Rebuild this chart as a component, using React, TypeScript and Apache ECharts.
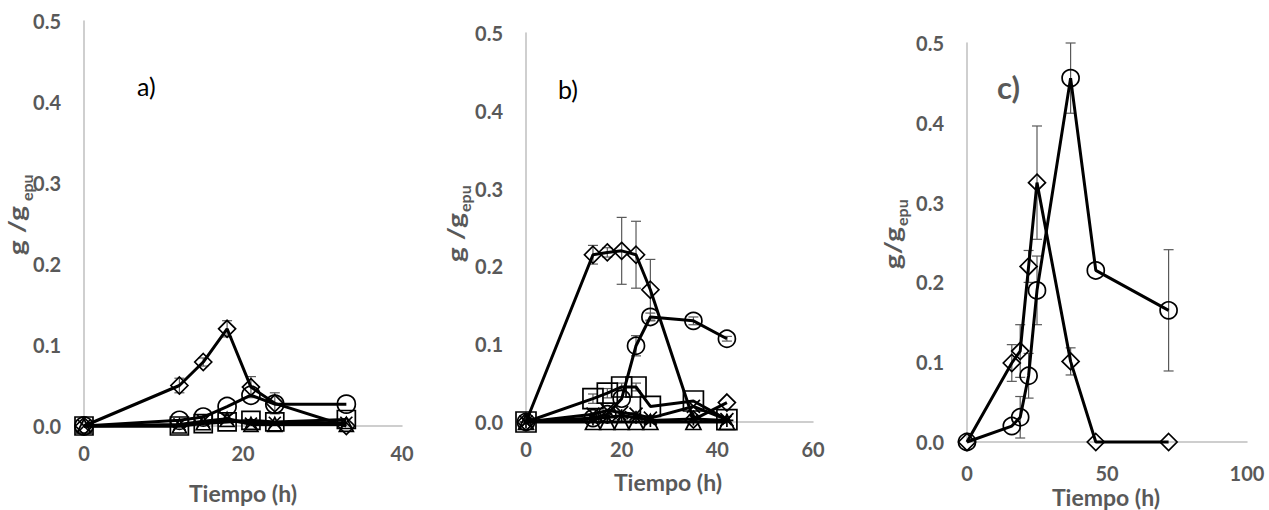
import React, { useEffect, useRef } from "react";
import * as echarts from "echarts";

// Panel a)
const aTime = [0, 12, 15, 18, 21, 24, 33];
const aDiamond = [0, 0.05, 0.079, 0.12, 0.048, 0.028, 0.0];
const aDiamondErr = [0, 0.009, 0.005, 0.01, 0.013, 0.013, 0];
const aCircle = [0, 0.007, 0.011, 0.024, 0.038, 0.027, 0.027];
const aSquare = [0, 0.0, 0.003, 0.005, 0.007, 0.005, 0.008];
const aTriangle = [0, 0.0, 0.004, 0.008, 0.002, 0.002, 0.002];
const aCross = [0, 0.002, 0.006, 0.009, 0.003, 0.004, 0.004];

// Panel b)
const bTime = [0, 14, 17, 20, 23, 26, 35, 42];
const bDiamond = [0, 0.215, 0.218, 0.22, 0.215, 0.17, 0.003, 0.025];
const bDiamondErr = [0, 0.012, 0.006, 0.043, 0.043, 0.039, 0, 0];
const bCircle = [0, 0.005, 0.01, 0.03, 0.098, 0.135, 0.13, 0.107];
const bCircleErr = [0, 0, 0, 0, 0.013, 0.005, 0.005, 0.003];
const bSquare = [0, 0.03, 0.037, 0.045, 0.045, 0.02, 0.027, 0.003];
const bSquareErr = [0, 0.006, 0.006, 0.005, 0.005, 0, 0, 0];
const bTriangle = [0, 0, 0, 0, 0, 0, 0, 0];
const bCross = [0, 0.01, 0.015, 0.012, 0.01, 0.005, 0.02, 0.003];
const bStar = [0, 0.004, 0.006, 0.008, 0.006, 0.002, 0.004, 0.002];

// Panel c)
const cTime = [0, 16, 19, 22, 25, 37, 46, 72];
const cDiamond = [0, 0.099, 0.114, 0.22, 0.325, 0.101, 0, 0];
const cDiamondErr = [0, 0.023, 0.033, 0.02, 0.071, 0.017, 0, 0];
const cCircle = [0, 0.02, 0.031, 0.083, 0.19, 0.456, 0.215, 0.165];
const cCircleErr = [0, 0, 0.026, 0.028, 0.043, 0.044, 0, 0.076];

const yTicks = [0, 0.1, 0.2, 0.3, 0.4, 0.5];
const xMax = [40, 60, 100];
const xStep = [20, 20, 50];

const FONT = "Lato, 'Open Sans', sans-serif";
const GREY = "#595959";
const AXIS_GREY = "#bfbfbf";

const CROSS = "path://M0 0L10 10M10 0L0 10";
const STAR = "path://M5 0L5 10M0 5L10 5M1.5 1.5L8.5 8.5M8.5 1.5L1.5 8.5";

function lineSeries(idx: number, xs: number[], ys: number[], symbol: string, size: number) {
  return {
    type: "line",
    xAxisIndex: idx,
    yAxisIndex: idx,
    data: xs.map((x, i) => [x, ys[i]]),
    symbol,
    symbolSize: size,
    showAllSymbol: true,
    clip: false,
    z: 3,
    lineStyle: { color: "#000", width: 3 },
    itemStyle: { color: "rgba(255,255,255,0)", borderColor: "#000", borderWidth: 1.7 },
    emphasis: { disabled: true },
  };
}

function errorSeries(idx: number, xs: number[], ys: number[], errs: number[]) {
  const data = xs
    .map((x, i) => [x, ys[i] - errs[i], ys[i] + errs[i]])
    .filter((_, i) => errs[i] > 0);
  return {
    type: "custom",
    xAxisIndex: idx,
    yAxisIndex: idx,
    z: 2,
    clip: false,
    encode: { x: 0, y: [1, 2] },
    data,
    renderItem: (_params: any, api: any) => {
      const x = api.value(0);
      const top = api.coord([x, api.value(2)]);
      const bot = api.coord([x, api.value(1)]);
      const w = 5;
      const style = { stroke: GREY, lineWidth: 1.2 };
      return {
        type: "group",
        children: [
          { type: "line", shape: { x1: top[0], y1: top[1], x2: bot[0], y2: bot[1] }, style },
          { type: "line", shape: { x1: top[0] - w, y1: top[1], x2: top[0] + w, y2: top[1] }, style },
          { type: "line", shape: { x1: bot[0] - w, y1: bot[1], x2: bot[0] + w, y2: bot[1] }, style },
        ],
      };
    },
  };
}

// Rotated axis title "g/g" with a lowered "epu" subscript; the main part is
// stretched along the reading direction.
function yLabel(cx: number, cy: number, main: string, sub: string, subShift: number) {
  return {
    type: "group",
    x: cx,
    y: cy,
    rotation: Math.PI / 2,
    children: [
      {
        type: "text",
        x: 0,
        y: 0,
        scaleX: 1.3,
        style: { text: main, align: "right", verticalAlign: "middle", font: `bold 22px ${FONT}`, fill: GREY },
      },
      {
        type: "text",
        x: 1,
        y: subShift,
        style: { text: sub, align: "left", verticalAlign: "middle", font: `bold 16px ${FONT}`, fill: GREY },
      },
    ],
  };
}

export default function App() {
  const ref = useRef<HTMLDivElement>(null);

  useEffect(() => {
    if (!ref.current) return;
    const chart = echarts.init(ref.current, undefined, { renderer: "svg" });

    const grids = [
      { left: 84, top: 21, width: 318, height: 405 },
      { left: 526, top: 33, width: 287, height: 389 },
      { left: 967, top: 43, width: 280, height: 399 },
    ];
    const xLabelMargin = [17, 17, 21];

    const xAxis = grids.map((_, i) => ({
      type: "value",
      gridIndex: i,
      min: 0,
      max: xMax[i],
      interval: xStep[i],
      axisLine: { show: true, onZero: true, lineStyle: { color: AXIS_GREY, width: 1.5 } },
      axisTick: { show: false },
      splitLine: { show: false },
      axisLabel: { color: GREY, fontWeight: "bold", fontSize: 20, fontFamily: FONT, margin: xLabelMargin[i] },
    }));

    const yAxis = grids.map((_, i) => ({
      type: "value",
      gridIndex: i,
      min: yTicks[0],
      max: yTicks[yTicks.length - 1],
      interval: 0.1,
      axisLine: { show: true, lineStyle: { color: AXIS_GREY, width: 1.5 } },
      axisTick: { show: false },
      splitLine: { show: false },
      axisLabel: {
        color: GREY,
        fontWeight: "bold",
        fontSize: 20,
        fontFamily: FONT,
        margin: 23,
        formatter: (v: number) => v.toFixed(1),
      },
    }));

    const series = [
      errorSeries(0, aTime, aDiamond, aDiamondErr),
      lineSeries(0, aTime, aSquare, "rect", 18),
      lineSeries(0, aTime, aTriangle, "triangle", 14),
      lineSeries(0, aTime, aCross, CROSS, 12),
      lineSeries(0, aTime, aCircle, "circle", 18),
      lineSeries(0, aTime, aDiamond, "diamond", 17),

      errorSeries(1, bTime, bDiamond, bDiamondErr),
      errorSeries(1, bTime, bCircle, bCircleErr),
      errorSeries(1, bTime, bSquare, bSquareErr),
      lineSeries(1, bTime, bSquare, "rect", 20),
      lineSeries(1, bTime, bTriangle, "triangle", 15),
      lineSeries(1, bTime, bCross, CROSS, 13),
      lineSeries(1, bTime, bStar, STAR, 13),
      lineSeries(1, bTime, bCircle, "circle", 17),
      lineSeries(1, bTime, bDiamond, "diamond", 17),

      errorSeries(2, cTime, cDiamond, cDiamondErr),
      errorSeries(2, cTime, cCircle, cCircleErr),
      lineSeries(2, cTime, cCircle, "circle", 17),
      lineSeries(2, cTime, cDiamond, "diamond", 17),
    ];

    const titleStyle = { text: "Tiempo (h)", font: `bold 23px ${FONT}`, fill: GREY, align: "center", verticalAlign: "middle" };

    chart.setOption({
      animation: false,
      grid: grids.map((g) => ({ ...g, containLabel: false })),
      xAxis,
      yAxis,
      series,
      graphic: [
        { type: "text", x: 243, y: 493, style: titleStyle },
        { type: "text", x: 668, y: 482, style: titleStyle },
        { type: "text", x: 1106, y: 497, style: titleStyle },
        { type: "text", x: 137, y: 86, style: { text: "a)", font: `25px ${FONT}`, fill: "#000", verticalAlign: "middle" } },
        { type: "text", x: 558, y: 89, style: { text: "b)", font: `25px ${FONT}`, fill: "#000", verticalAlign: "middle" } },
        { type: "text", x: 997, y: 87, style: { text: "c)", font: `bold 31px ${FONT}`, fill: GREY, verticalAlign: "middle" } },
        yLabel(16, 206, "g /g", " epu", 10),
        yLabel(455, 213, "g /g", "epu", 9),
        yLabel(892, 227, "g/g", "epu", 9),
      ],
    });

    return () => chart.dispose();
  }, []);

  return (
    <div
      ref={ref}
      style={{ position: "fixed", left: 0, top: 0, width: 1269, height: 510, background: "#fff" }}
    />
  );
}
